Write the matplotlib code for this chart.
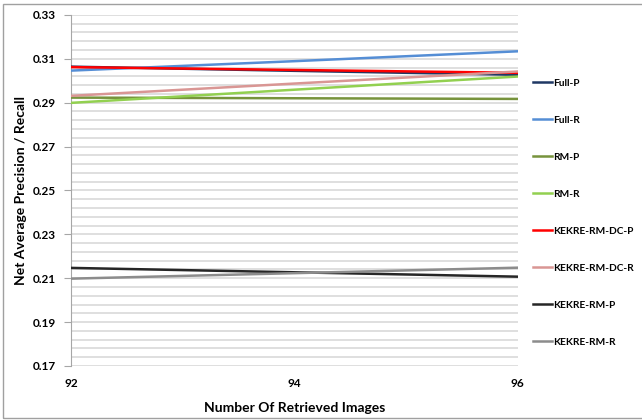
import matplotlib.pyplot as plt
from matplotlib.patches import Rectangle
import numpy as np

plt.rcParams['font.family'] = ['Lato', 'DejaVu Sans']
plt.rcParams['font.weight'] = 'bold'

x = [92, 94, 96]
full_p = [0.3064, 0.3045, 0.3027]
full_r = [0.3046, 0.3089, 0.3134]
rm_p = [0.2923, 0.2920, 0.2917]
rm_r = [0.2899, 0.2959, 0.3019]
kekre_dc_p = [0.3062, 0.3049, 0.3036]
kekre_dc_r = [0.2931, 0.2987, 0.3042]
kekre_p = [0.2147, 0.2127, 0.2107]
kekre_r = [0.2098, 0.2123, 0.2148]

labels = ['Full-P', 'Full-R', 'RM-P', 'RM-R', 'KEKRE-RM-DC-P',
          'KEKRE-RM-DC-R', 'KEKRE-RM-P', 'KEKRE-RM-R']
colors = ['#1F3864', '#558ED5', '#77933C', '#92D050', '#FF0000',
          '#D99694', '#262626', '#8C8C8C']
series = [full_p, full_r, rm_p, rm_r, kekre_dc_p, kekre_dc_r, kekre_p, kekre_r]

fig = plt.figure(figsize=(6.42, 4.2), dpi=100)
ax = fig.add_axes([0.1106, 0.1286, 0.696, 0.836])

for s, c, lab in zip(series, colors, labels):
    ax.plot(x, s, color=c, lw=1.8, label=lab, zorder=3)

ax.set_xlim(92, 96)
ax.set_ylim(0.17, 0.33)
ax.set_xticks([92, 94, 96])
ax.set_yticks(np.arange(0.17, 0.331, 0.02))
ax.set_yticks(np.arange(0.17, 0.331, 0.004), minor=True)
ax.yaxis.set_major_formatter(plt.FormatStrFormatter('%.2f'))
ax.grid(axis='y', which='both', color='#D9D9D9', lw=1.2, zorder=0)
for side in ['top', 'right', 'bottom']:
    ax.spines[side].set_visible(False)
ax.spines['left'].set_color('#A6A6A6')
ax.tick_params(axis='y', which='major', length=5, color='#A6A6A6', labelsize=8.5, pad=6)
ax.tick_params(axis='y', which='minor', length=0)
ax.tick_params(axis='x', length=0, labelsize=8.5, pad=9)
for t in ax.get_xticklabels() + ax.get_yticklabels():
    t.set_fontweight('bold')

ax.set_xlabel('Number Of Retrieved Images', fontsize=10, fontweight='bold', labelpad=9)
ax.set_ylabel('Net Average Precision / Recall', fontsize=10, fontweight='bold', labelpad=4)

leg = ax.legend(loc='center left', bbox_to_anchor=(1.025, 0.437), frameon=False,
                fontsize=7.3, labelspacing=2.75, handlelength=1.9, handletextpad=0.05,
                borderaxespad=0)
for t in leg.get_texts():
    t.set_fontweight('bold')

fig.patches.append(Rectangle((0.005, 0.005), 1.2, 0.985, transform=fig.transFigure,
                             fill=False, edgecolor='#A0A0A0', lw=1))

fig.savefig('out.png', dpi=100)
